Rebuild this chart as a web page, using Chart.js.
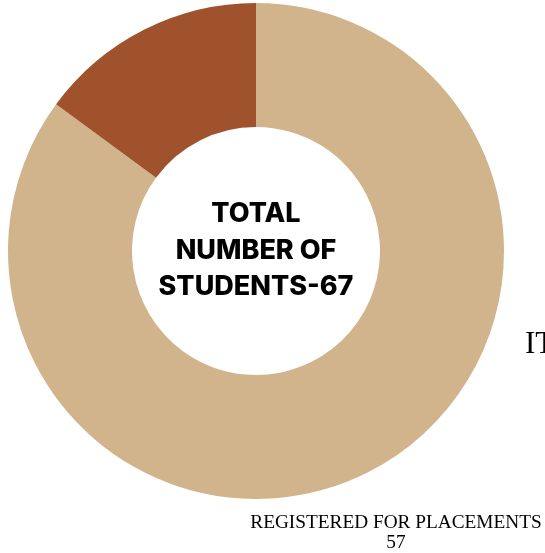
<!DOCTYPE html>
<html>
<head>
<meta charset="utf-8">
<script src="https://cdn.jsdelivr.net/npm/chart.js@4"></script>
<style>
  html, body { margin: 0; padding: 0; background: #fff; }
  canvas { display: block; }
</style>
</head>
<body>
<canvas id="studentsChart" width="545" height="553"></canvas>
<script>
// Slice data
const sliceLabels = ['REGISTERED FOR PLACEMENTS', 'IT'];
const sliceValues = [57, 10];
const sliceColors = ['#D2B48C', '#A0522D'];
const centerLines = ['TOTAL', 'NUMBER OF', 'STUDENTS-67'];

// Draws the center title and the outside labels
const labelPlugin = {
    id: 'labelPlugin',
    afterDraw: function(chart) {
        const ctx = chart.ctx;
        const meta = chart.getDatasetMeta(0);
        const arc = meta.data[0];
        const cx = arc.x, cy = arc.y;

        ctx.save();
        ctx.fillStyle = '#000';
        ctx.textAlign = 'center';
        ctx.textBaseline = 'middle';
        ctx.font = '800 27px Inter';
        const lineH = 36.5;
        centerLines.forEach(function(line, i) {
            ctx.fillText(line, cx, cy - 37 + i * lineH);
        });

        // tan slice label, below the ring
        ctx.font = '19.3px "Liberation Serif"';
        ctx.textBaseline = 'alphabetic';
        ctx.fillText(sliceLabels[0], 396, 528);
        ctx.fillText(String(sliceValues[0]), 396, 548);

        // brown slice label, runs off the right edge
        ctx.textAlign = 'left';
        ctx.font = '31px "Liberation Serif"';
        ctx.fillText(sliceLabels[1], 525, 353);
        ctx.restore();
    }
};

new Chart(document.getElementById('studentsChart'), {
    type: 'doughnut',
    data: {
        labels: sliceLabels,
        datasets: [{
            data: sliceValues,
            backgroundColor: sliceColors,
            borderWidth: 0
        }]
    },
    options: {
        responsive: false,
        animation: false,
        cutout: '50%',
        layout: {
            padding: { left: 8, right: 41, top: 3, bottom: 54 }
        },
        plugins: {
            legend: { display: false },
            tooltip: { enabled: false }
        }
    },
    plugins: [labelPlugin]
});
</script>
</body>
</html>
